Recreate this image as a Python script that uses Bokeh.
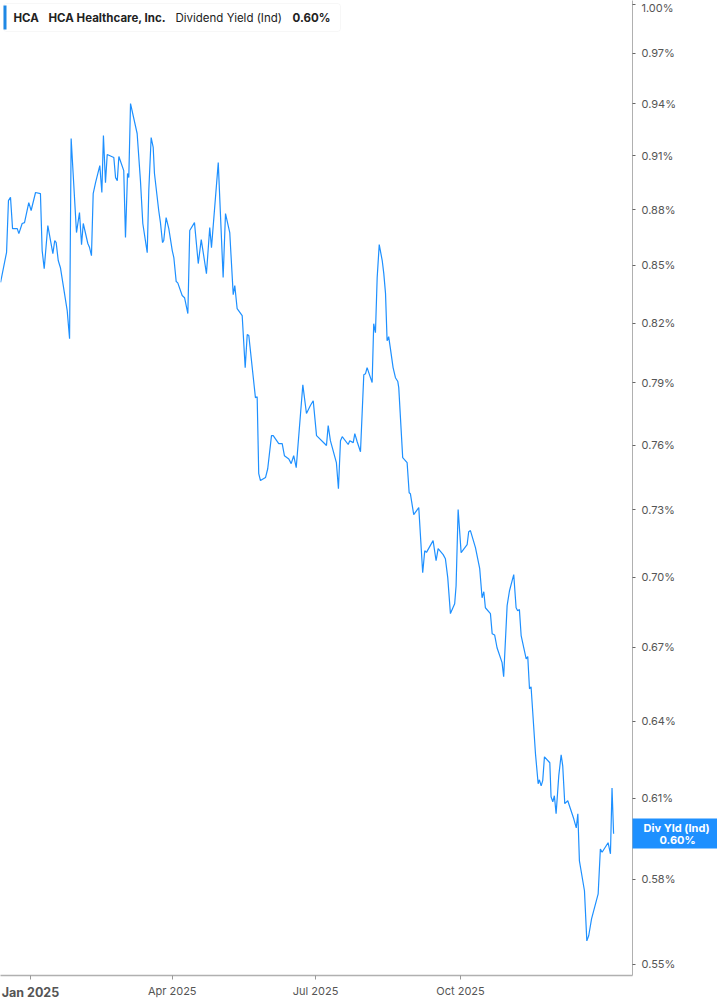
import math
from bokeh.plotting import figure
from bokeh.models import (Range1d, FixedTicker, PrintfTickFormatter, CustomJSTickFormatter,
                          Label, BoxAnnotation, GridBox)
from bokeh.embed import file_html
from bokeh.resources import INLINE

# ---------------- data ----------------
# days since 2025-01-01 for each vertex of the line
days = [
    -19.0, -15.2, -14.0, -12.7, -11.4, -8.4, -7.4, -5.3, -3.8, -1.1,
    0.4, 3.2, 6.3, 7.4, 8.7, 11.0, 14.2, 15.4, 16.3, 17.6,
    19.0, 23.3, 24.8, 25.8, 29.2, 31.1, 32.4, 33.5, 36.4, 37.5,
    38.7, 39.8, 41.3, 44.0, 45.3, 46.3, 47.6, 48.7, 52.9, 54.0,
    55.1, 56.1, 59.2, 60.3, 61.6, 62.4, 63.5, 67.7, 69.8, 71.3,
    74.1, 75.1, 76.6, 77.9,
    78.7, 81.4, 82.5, 83.8, 84.6, 86.1, 87.8, 90.0, 91.0, 92.5,
    93.5, 96.3, 97.8, 99.9, 101.1, 104.1, 106.5, 108.4, 111.7, 113.8,
    114.9, 119.2, 122.3, 123.8, 126.5, 128.7, 129.7, 131.2, 134.4, 136.3,
    137.6, 138.6, 142.8, 143.9, 144.9, 146.0, 149.2, 150.6, 153.0, 154.1,
    157.6, 159.8, 161.2, 164.0, 165.5, 167.1, 168.7, 172.9, 175.2,
    177.7, 179.5, 181.6, 187.3, 187.9, 189.0, 190.4, 194.2, 195.5, 196.8,
    197.9, 201.7, 202.7, 204.9, 205.9, 207.4, 209.5, 211.6, 212.7, 213.7,
    215.4, 216.9, 217.9, 219.0, 220.1, 221.4, 223.3, 224.3, 225.4, 226.4,
    227.4, 228.5, 230.2, 231.7, 233.2, 233.8, 236.3, 239.1, 240.4, 241.2,
    243.3, 246.5, 249.0, 250.3, 251.4, 255.6, 257.5, 258.8, 262.0, 263.4,
    264.9, 266.6, 269.3, 270.2, 271.5, 273.4,
    277.2, 278.2, 279.3, 282.5, 285.2, 286.7, 287.8, 288.8, 292.0, 293.1,
    294.7, 296.2, 299.4, 300.4, 302.6, 304.1, 306.8, 308.3, 309.3, 310.4,
    311.5, 314.7, 315.7, 316.8, 317.8, 320.6, 322.3, 323.1, 324.2, 325.2,
    326.3, 329.7, 330.5, 331.6, 332.6, 333.7, 335.4, 336.9, 337.9, 339.2,
    341.1, 344.9, 346.5, 347.5, 348.5, 351.7, 353.2, 354.4, 356.2, 360.4,
    361.8, 362.9, 366.7, 368.2, 369.2, 370.2,
]

# dividend yield (%) at each vertex
yield_pct = [
    0.8411, 0.8570, 0.8850, 0.8869, 0.8697, 0.8697, 0.8670, 0.8725, 0.8730, 0.8839,
    0.8796, 0.8895, 0.8889, 0.8579, 0.8483, 0.8714, 0.8563, 0.8633, 0.8622, 0.8526,
    0.8488, 0.8264, 0.8121, 0.9199, 0.8676, 0.8785, 0.8611, 0.8725, 0.8617, 0.8595,
    0.8552, 0.8889, 0.8950, 0.9045, 0.8895, 0.9216, 0.8950, 0.9108, 0.9091, 0.8978,
    0.8961, 0.9097, 0.9017, 0.8649, 0.9001, 0.8978, 0.9402, 0.9228, 0.8961, 0.8725,
    0.8568, 0.8906, 0.9205, 0.9148,
    0.9001, 0.8796, 0.8730, 0.8622, 0.8633, 0.8757, 0.8697, 0.8579, 0.8542, 0.8415,
    0.8408, 0.8342, 0.8331, 0.8249, 0.8687, 0.8730, 0.8510, 0.8638, 0.8457, 0.8703,
    0.8595, 0.9062, 0.8436, 0.8779, 0.8676, 0.8347, 0.8394, 0.8274, 0.8238, 0.7976,
    0.8142, 0.8137, 0.7828, 0.7833, 0.7466, 0.7434, 0.7448, 0.7489, 0.7645, 0.7645,
    0.7607, 0.7607, 0.7550, 0.7535, 0.7513, 0.7550, 0.7494, 0.7891, 0.7751,
    0.7790, 0.7813, 0.7645, 0.7603, 0.7598, 0.7693, 0.7621, 0.7518, 0.7396, 0.7621,
    0.7640, 0.7603, 0.7621, 0.7612, 0.7655, 0.7616, 0.7569, 0.7941, 0.7946, 0.7976,
    0.7936, 0.7902, 0.8197, 0.8151, 0.8436, 0.8611, 0.8526, 0.8457, 0.8352, 0.8111,
    0.8131, 0.8071, 0.7976, 0.7926, 0.7907, 0.7877, 0.7541, 0.7518, 0.7378, 0.7373,
    0.7278, 0.7310, 0.7019, 0.7116, 0.7109, 0.7161, 0.7072, 0.7126, 0.7099, 0.7081,
    0.6998, 0.6843, 0.6885, 0.6963, 0.7301, 0.7108,
    0.7143, 0.7201, 0.7206, 0.7130, 0.7037, 0.6911, 0.6937, 0.6868, 0.6843, 0.6758,
    0.6752, 0.6699, 0.6637, 0.6579, 0.6877, 0.6941, 0.7011, 0.6868, 0.6855, 0.6860,
    0.6750, 0.6653, 0.6662, 0.6530, 0.6538, 0.6271, 0.6155, 0.6170, 0.6147, 0.6167,
    0.6259, 0.6236, 0.6105, 0.6086, 0.6109, 0.6041, 0.6186, 0.6267, 0.6224, 0.6079,
    0.6090, 0.6022, 0.5988, 0.6041, 0.5866, 0.5758, 0.5581, 0.5599, 0.5658, 0.5747,
    0.5910, 0.5898, 0.5933, 0.5892, 0.6139, 0.5966,
]

x_tick_days = [0, 90, 181, 273]
x_tick_labels = ["Jan 2025", "Apr 2025", "Jul 2025", "Oct 2025"]
y_ticks = [0.55, 0.58, 0.61, 0.64, 0.67, 0.70, 0.73, 0.76, 0.79, 0.82,
           0.85, 0.88, 0.91, 0.94, 0.97, 1.00]

ticker_sym = "HCA"
company = "HCA Healthcare, Inc."
metric = "Dividend Yield (Ind)"
metric_short = "Div Yld (Ind)"

# ---------------- layout ----------------
W, H = 717, 1005
FW, FH = 632, 975
X0, X1 = -19.05, 382.2
Y0, Y1 = 0.5462, 1.0025

FONT = "Inter"
BLUE = "#1e90ff"
LAST = yield_pct[-1]
LAST_TXT = f"{LAST:.2f}%"


def sx(px):
    return X0 + px / FW * (X1 - X0)


def sy(px):
    return math.exp(math.log(Y1) - px / FH * math.log(Y1 / Y0))


def px_of_value(v):
    return FH * math.log(Y1 / v) / math.log(Y1 / Y0)


def make_fig(x_axis=True, y_axis=True):
    f = figure(width=W, height=H, output_backend="svg", toolbar_location=None,
               y_axis_type="log" if y_axis else None, y_axis_location="right",
               x_axis_type="linear" if x_axis else None,
               x_range=Range1d(X0, X1), y_range=Range1d(Y0, Y1),
               min_border_left=0, min_border_top=0, min_border_right=W - FW,
               min_border_bottom=H - FH)
    f.outline_line_color = None
    f.xgrid.visible = False
    f.ygrid.visible = False
    return f


def const_fmt(txt):
    return CustomJSTickFormatter(args=dict(t=txt), code="return t")


# ---------------- main chart ----------------
p = make_fig()
p.background_fill_color = "white"
p.border_fill_color = "white"

p.line(days, yield_pct, line_color=BLUE, line_width=1.2)

ya = p.yaxis[0]
ya.ticker = FixedTicker(ticks=y_ticks)
ya.formatter = PrintfTickFormatter(format="%.2f%%")
ya.axis_line_color = "#b0b0b0"
ya.axis_line_width = 1
ya.major_tick_in = 0
ya.major_tick_out = 3
ya.major_tick_line_color = "#666666"
ya.minor_tick_line_color = None
ya.major_label_text_font = FONT
ya.major_label_text_font_size = "11px"
ya.major_label_text_color = "#555555"
ya.major_label_standoff = 6

xa = p.xaxis[0]
xa.ticker = FixedTicker(ticks=x_tick_days)
xa.major_label_overrides = {d: (lab if i > 0 else "") for i, (d, lab) in enumerate(zip(x_tick_days, x_tick_labels))}
xa.axis_line_color = "#b0b0b0"
xa.axis_line_width = 1.5
xa.major_tick_in = 0
xa.major_tick_out = 4
xa.major_tick_line_color = "#999999"
xa.minor_tick_line_color = None
xa.major_label_text_font = FONT
xa.major_label_text_font_size = "11px"
xa.major_label_text_color = "#555555"
xa.major_label_standoff = 4

# legend box at top left
p.add_layout(BoxAnnotation(left=sx(3), right=sx(340), top=sy(3), bottom=sy(31),
                           fill_color="white", fill_alpha=1.0, line_color="#e4e4e4",
                           line_width=1, border_radius=3))
p.add_layout(BoxAnnotation(left=sx(3), right=sx(6), top=sy(5), bottom=sy(29),
                           fill_color="#1e88e5", fill_alpha=1.0, line_color=None))
legend_parts = [(13, ticker_sym, "bold"), (48, company, "bold"),
                (175, metric, "normal"), (292, LAST_TXT, "bold")]
for xpx, txt, style in legend_parts:
    p.add_layout(Label(x=sx(xpx), y=sy(17), text=txt,
                       text_baseline="middle", text_align="left", text_font=FONT,
                       text_font_size="11.5px", text_font_style=style, text_color="#222222"))

# ---------------- transparent overlays sharing the same frame ----------------
def overlay(x_axis, y_axis):
    f = make_fig(x_axis=x_axis, y_axis=y_axis)
    f.background_fill_color = None
    f.border_fill_color = None
    return f


# overlay 1: blue last-value box (a thick tick) + bold first-year label
q1 = overlay(True, True)
a = q1.yaxis[0]
a.ticker = FixedTicker(ticks=[LAST])
a.axis_line_color = None
a.minor_tick_line_color = None
a.major_tick_in = 0
a.major_tick_out = W - FW
a.major_tick_line_width = 30
a.major_tick_line_color = BLUE
a.major_label_text_alpha = 0
b = q1.xaxis[0]
b.ticker = FixedTicker(ticks=[x_tick_days[0]])
b.formatter = const_fmt(x_tick_labels[0])
b.axis_line_color = None
b.major_tick_line_color = None
b.minor_tick_line_color = None
b.major_tick_in = 0
b.major_tick_out = 0
b.major_label_standoff = 9
b.major_label_text_font = FONT
b.major_label_text_font_size = "12.5px"
b.major_label_text_font_style = "bold"
b.major_label_text_color = "#555555"

# overlays 2 & 3: the two lines of text inside the box
tag_px = px_of_value(LAST)
tag_lines = [(metric_short, -6, 11), (LAST_TXT, 6, 27)]
overlays = [q1]
for txt, dy, standoff in tag_lines:
    q = overlay(False, True)
    a = q.yaxis[0]
    a.ticker = FixedTicker(ticks=[sy(tag_px + dy)])
    a.formatter = const_fmt(txt)
    a.axis_line_color = None
    a.major_tick_line_color = None
    a.minor_tick_line_color = None
    a.major_tick_in = 0
    a.major_tick_out = 0
    a.major_label_standoff = standoff
    a.major_label_text_font = FONT
    a.major_label_text_font_size = "11px"
    a.major_label_text_font_style = "bold"
    a.major_label_text_color = "white"
    overlays.append(q)

layout = GridBox(children=[(p, 0, 0)] + [(q, 0, 0) for q in overlays], spacing=0)

open("out.html", "w").write(file_html(layout, INLINE))
